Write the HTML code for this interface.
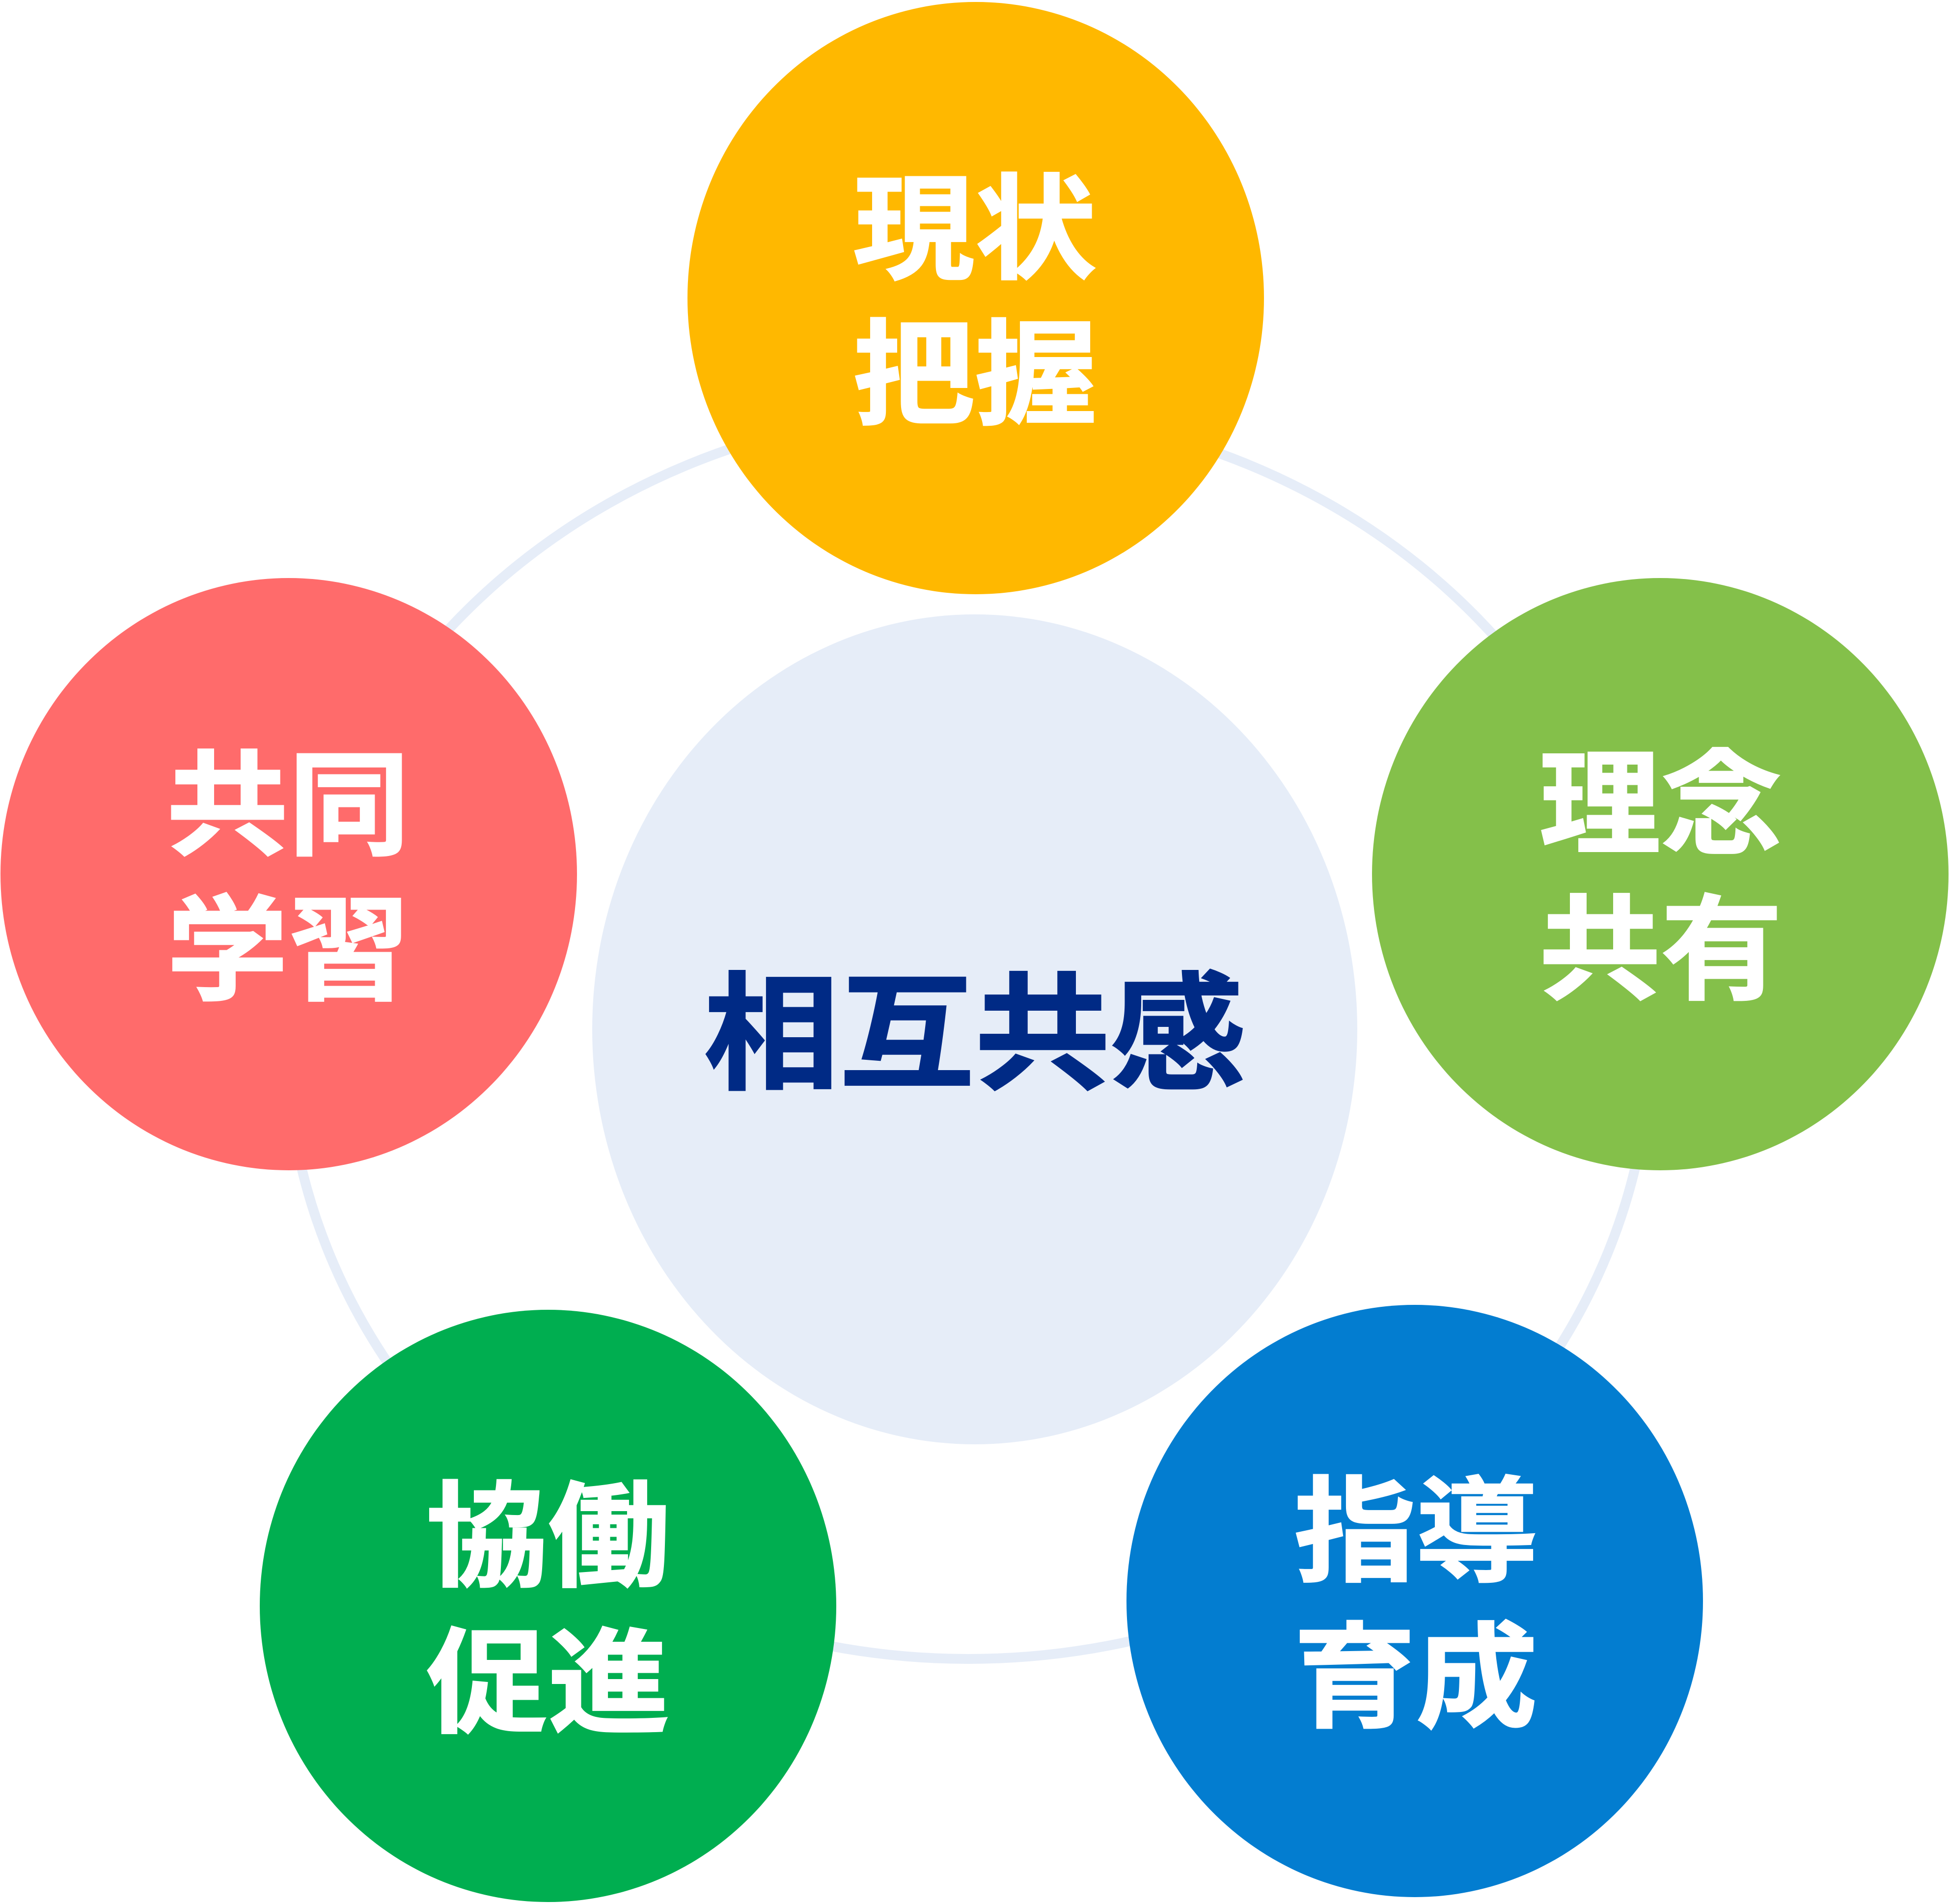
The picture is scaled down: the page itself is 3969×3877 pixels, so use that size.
<!DOCTYPE html>
<html lang="ja"><head><meta charset="utf-8"><title>相互共感</title>
<style>
html,body{margin:0;padding:0;background:#fff;width:3969px;height:3877px;overflow:hidden}
svg{display:block}
text{font-family:"Liberation Sans","Noto Sans CJK JP",sans-serif;font-weight:700;text-anchor:middle}
</style></head><body>
<svg xmlns="http://www.w3.org/2000/svg" width="3969" height="3877" viewBox="0 0 3969 3877">
<rect width="3969" height="3877" fill="#fff"/>
<ellipse cx="1972" cy="2106" rx="1390" ry="1272" fill="none" stroke="#e6edf8" stroke-width="20"/>
<ellipse cx="1985" cy="2096" rx="779" ry="845" fill="#e6edf8"/>
<ellipse cx="1987" cy="607" rx="587" ry="603" fill="#ffb800"/>
<ellipse cx="3381" cy="1780" rx="587" ry="603" fill="#84c04a"/>
<ellipse cx="2881" cy="3260" rx="587" ry="603" fill="#037dd0"/>
<ellipse cx="1116" cy="3270" rx="587" ry="603" fill="#00ae50"/>
<ellipse cx="588" cy="1780" rx="587" ry="603" fill="#ff6b6b"/>
<g fill="#fff" font-size="248" stroke="#fff" stroke-width="3">
<text transform="translate(1985 549) scale(1 .94)">現状</text>
<text transform="translate(1985 845) scale(1 .94)">把握</text>
<text transform="translate(3382 1720) scale(1 .94)">理念</text>
<text transform="translate(3382 2016) scale(1 .94)">共有</text>
<text transform="translate(2883 3201) scale(1 .94)">指導</text>
<text transform="translate(2883 3498) scale(1 .94)">育成</text>
<text transform="translate(1116 3211) scale(1 .94)">協働</text>
<text transform="translate(1116 3509) scale(1 .94)">促進</text>
<text transform="translate(587 1722) scale(1 .94)">共同</text>
<text transform="translate(587 2017) scale(1 .94)">学習</text>
</g>
<text transform="translate(1985 2197) scale(1 .94)" font-size="276" fill="#002a85" stroke="#002a85" stroke-width="3">相互共感</text>
</svg>
</body></html>
